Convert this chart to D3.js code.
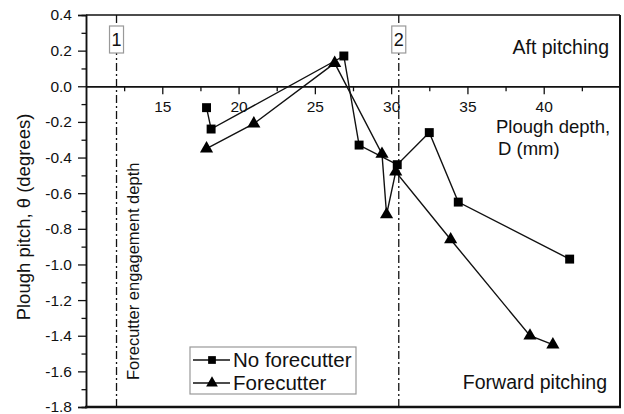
<!DOCTYPE html>
<html>
<head>
<meta charset="utf-8">
<script src="https://cdn.jsdelivr.net/npm/d3@7"></script>
<style>
  body { margin: 0; background: #fff; }
  svg text { font-family: "Liberation Sans", Arial, sans-serif; fill: #111; }
</style>
</head>
<body>
<svg id="chart" width="624" height="414"></svg>
<script>
// plough depth (mm) and pitch (degrees)
const depthNoFc = [17.9, 18.2, 26.9, 27.9, 30.4, 32.5, 34.4, 41.7]
const pitchNoFc = [-0.12, -0.24, 0.17, -0.33, -0.44, -0.26, -0.65, -0.97]
const depthFc = [17.9, 21.0, 26.3, 29.4, 29.7, 30.3, 33.9, 39.1, 40.6]
const pitchFc = [-0.35, -0.21, 0.13, -0.38, -0.72, -0.48, -0.86, -1.40, -1.45]

const xMajor = [15, 20, 25, 30, 35, 40]
const xMinor = [12.5, 17.5, 22.5, 27.5, 32.5, 37.5, 42.5]
const yMajor = [0.4, 0.2, 0.0, -0.2, -0.4, -0.6, -0.8, -1.0, -1.2, -1.4, -1.6, -1.8]
const yMinor = [0.3, 0.1, -0.1, -0.3, -0.5, -0.7, -0.9, -1.1, -1.3, -1.5, -1.7]

const markerLines = [{ x: 12, label: '1' }, { x: 30.5, label: '2' }]

const margin = { top: 15, right: 4, bottom: 7, left: 86 }
const width = 624 - margin.left - margin.right
const height = 414 - margin.top - margin.bottom

const svg = d3.select('#chart')

const xScale = d3.scaleLinear().domain([10, 45]).range([margin.left, margin.left + width])
const yScale = d3.scaleLinear().domain([-1.8, 0.4]).range([margin.top + height, margin.top])

const fmt = d => d3.format('.1f')(d).replace('−', '-')

// minor ticks first, major on top
svg.append('g')
  .attr('transform', `translate(${margin.left}, 0)`)
  .call(d3.axisLeft(yScale).tickValues(yMinor).tickSize(4.5).tickFormat(''))
svg.append('g')
  .attr('class', 'yaxis')
  .attr('transform', `translate(${margin.left}, 0)`)
  .call(d3.axisLeft(yScale).tickValues(yMajor).tickSize(8).tickPadding(6).tickFormat(fmt))

svg.append('g')
  .attr('transform', `translate(0, ${yScale(0)})`)
  .call(d3.axisBottom(xScale).tickValues(xMinor).tickSize(5).tickFormat('').tickSizeOuter(0))
svg.append('g')
  .attr('class', 'xaxis')
  .attr('transform', `translate(0, ${yScale(0)})`)
  .call(d3.axisBottom(xScale).tickValues(xMajor).tickSize(8).tickPadding(7).tickSizeOuter(0))

svg.selectAll('.domain').attr('stroke', '#111').attr('stroke-width', 1.5)
svg.selectAll('.tick line').attr('stroke', '#111').attr('stroke-width', 1.3)
svg.selectAll('.yaxis text, .xaxis text').style('font-size', '15.5px').attr('fill', '#111')

// frame: top, right, bottom
const frame = svg.append('g').attr('stroke', '#111').attr('fill', 'none')
frame.append('line')
  .attr('x1', margin.left).attr('x2', margin.left + width)
  .attr('y1', margin.top).attr('y2', margin.top).attr('stroke-width', 1.5)
frame.append('line')
  .attr('x1', margin.left + width).attr('x2', margin.left + width)
  .attr('y1', margin.top).attr('y2', margin.top + height).attr('stroke-width', 2)
frame.append('line')
  .attr('x1', margin.left - 1).attr('x2', margin.left + width + 1)
  .attr('y1', margin.top + height).attr('y2', margin.top + height).attr('stroke-width', 2.5)

// dash-dot marker lines with boxed labels
const marks = svg.append('g')
marks.selectAll('line')
  .data(markerLines)
  .enter()
  .append('line')
  .attr('x1', d => xScale(d.x)).attr('x2', d => xScale(d.x))
  .attr('y1', margin.top).attr('y2', margin.top + height)
  .attr('stroke', '#111')
  .attr('stroke-width', 1.3)
  .attr('stroke-dasharray', '8,3,2,3')

const boxes = marks.selectAll('g.box')
  .data(markerLines)
  .enter()
  .append('g')
  .attr('class', 'box')
  .attr('transform', d => `translate(${xScale(d.x)}, 39.5)`)
boxes.append('rect')
  .attr('x', -7).attr('y', -13.5).attr('width', 14).attr('height', 27)
  .attr('fill', '#fff').attr('stroke', '#999').attr('stroke-width', 1.2)
boxes.append('text')
  .attr('text-anchor', 'middle')
  .attr('y', 6.5)
  .style('font-size', '18px')
  .text(d => d.label)

// series
const noFc = depthNoFc.map((d, i) => ({ x: d, y: pitchNoFc[i] }))
const fc = depthFc.map((d, i) => ({ x: d, y: pitchFc[i] }))

const line = d3.line().x(d => xScale(d.x)).y(d => yScale(d.y))

const series = [
  { data: noFc, symbol: d3.symbolSquare, size: 80 },
  { data: fc, symbol: d3.symbolTriangle, size: 75 }
]

series.forEach(s => {
  svg.append('path')
    .datum(s.data)
    .attr('d', line)
    .attr('fill', 'none')
    .attr('stroke', '#111')
    .attr('stroke-width', 1.4)
  svg.append('g')
    .selectAll('path')
    .data(s.data)
    .enter()
    .append('path')
    .attr('d', d3.symbol().type(s.symbol).size(s.size))
    .attr('transform', d => `translate(${xScale(d.x)}, ${yScale(d.y)})`)
    .attr('fill', '#000')
})

// annotations
const notes = svg.append('g')
notes.append('text')
  .attr('x', 609).attr('y', 54)
  .attr('text-anchor', 'end')
  .style('font-size', '19.5px')
  .text('Aft pitching')
notes.append('text')
  .attr('x', 496).attr('y', 133)
  .style('font-size', '18.5px')
  .text('Plough depth,')
notes.append('text')
  .attr('x', 498).attr('y', 155)
  .style('font-size', '18.5px')
  .text('D (mm)')
notes.append('text')
  .attr('x', 607).attr('y', 389)
  .attr('text-anchor', 'end')
  .style('font-size', '19.5px')
  .text('Forward pitching')
notes.append('text')
  .attr('transform', 'translate(139, 380) rotate(-90)')
  .style('font-size', '16.5px')
  .text('Forecutter engagement depth')
notes.append('text')
  .attr('transform', 'translate(30, 217) rotate(-90)')
  .attr('text-anchor', 'middle')
  .style('font-size', '18.5px')
  .text('Plough pitch, θ (degrees)')

// legend
const legend = svg.append('g').attr('transform', 'translate(190, 347)')
legend.append('rect')
  .attr('width', 166).attr('height', 47)
  .attr('fill', '#fff').attr('stroke', '#999').attr('stroke-width', 1.2)

const legendItems = legend.selectAll('g.item')
  .data([
    { name: 'No forecutter', symbol: d3.symbolSquare, size: 60 },
    { name: 'Forecutter', symbol: d3.symbolTriangle, size: 60 }
  ])
  .enter()
  .append('g')
  .attr('class', 'item')
  .attr('transform', (d, i) => `translate(0, ${13 + i * 23})`)
legendItems.append('line')
  .attr('x1', 3).attr('x2', 40)
  .attr('stroke', '#111').attr('stroke-width', 1.4)
legendItems.append('path')
  .attr('d', d => d3.symbol().type(d.symbol).size(d.size)())
  .attr('transform', 'translate(22, 0)')
  .attr('fill', '#000')
legendItems.append('text')
  .attr('x', 43).attr('y', 6.5)
  .style('font-size', '20.5px')
  .text(d => d.name)
</script>
</body>
</html>
